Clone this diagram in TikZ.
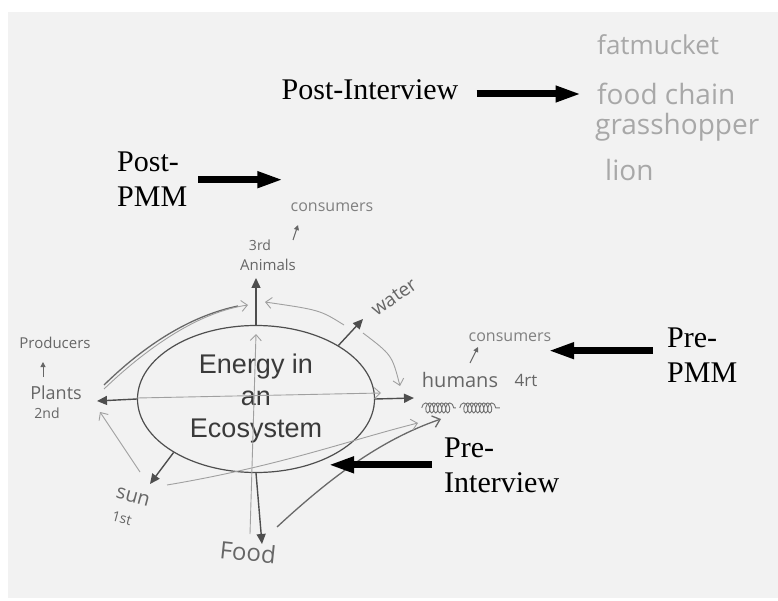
\documentclass[tikz,border=0pt]{standalone}
\usepackage{fontspec}
\setmainfont{Liberation Serif}
\newfontfamily\handfont{Open Sans}
\newfontfamily\arialfont{Liberation Sans}
\usepackage{tikz}
\usetikzlibrary{shapes.geometric, positioning, arrows.meta, calc, decorations.pathmorphing}
\definecolor{paper}{HTML}{F2F2F2}
\definecolor{pencil}{HTML}{4E4E4E}
\definecolor{faint}{HTML}{A0A0A0}
\definecolor{ink}{HTML}{666666}
\definecolor{lightink}{HTML}{A8A8A8}
\definecolor{ecotext}{HTML}{3A3A3A}
\tikzset{
  typed/.style={font=\fontsize{30}{35}\selectfont, align=left, inner sep=0pt, text=black},
  bigarrow/.style={line width=7pt, black, -{Triangle[length=26pt,width=15pt]}},
  hand/.style={font=\handfont\fontsize{#1}{#1}\selectfont, text=ink, inner sep=0pt},
  hand/.default=16,
  pencilarrow/.style={draw=pencil, line width=1.4pt, -{Triangle[length=10pt,width=9pt]}},
  faintarrow/.style={draw=faint, line width=0.9pt, -{Straight Barb[length=6pt,width=11pt]}},
  smallarrow/.style={draw=ink, line width=1pt, -{Triangle[length=5pt,width=5pt]}}
}

\begin{document}
\begin{tikzpicture}[x=1pt, y=-1pt]

    % Hoja de papel
    \useasboundingbox (0,0) rectangle (778,601);
    \fill[white] (0,0) rectangle (778,601);
    \fill[paper] (8,12) rectangle (778,598);

    % 1. Elipse central
    \node[ellipse, draw=pencil, line width=1.2pt, minimum width=237pt, minimum height=147pt,
          inner sep=0pt, align=center, text=ecotext,
          font=\arialfont\fontsize{27}{32}\selectfont] (eco) at (256,399)
          {Energy in\\an\\Ecosystem};

    % 2. Etiquetas a mano
    \node[hand=15] (animals) at (268,265) {Animals};
    \node[hand=14] (third) at (260,245) {3rd};
    \node[hand=16, text=faint!80!black] (consumersA) at (332,207) {consumers};
    \node[hand=15] (producers) at (55,343) {Producers};
    \node[hand=18] (plants) at (56,393) {Plants};
    \node[hand=14] (second) at (47,413) {2nd};
    \node[hand=20, rotate=-15] (sun) at (133,497) {sun};
    \node[hand=14, rotate=-15] (first) at (122,518) {1st};
    \node[hand=24, rotate=-6] (food) at (248,552) {Food};
    \node[hand=19, rotate=35] (water) at (394,297) {water};
    \node[hand=20] (humans) at (460,380) {humans};
    \node[hand=17] (fourth) at (526,380) {4rt};
    \node[hand=16, text=faint!80!black] (consumersB) at (510,337) {consumers};

    % Lista de la entrevista final
    \node[hand=26, text=lightink, anchor=west] (fatmucket) at (597,45) {fatmucket};
    \node[hand=28, text=lightink, anchor=west] (foodchain) at (597,94) {food chain};
    \node[hand=28, text=lightink, anchor=west] (grasshopper) at (595,127) {grasshopper};
    \node[hand=28, text=lightink, anchor=west] (lion) at (605,170) {lion};

    % Garabato tachado bajo humans
    \draw[pencil!80, line width=0.9pt, decorate,
          decoration={coil, aspect=0.6, segment length=4pt, amplitude=5pt}]
          ([yshift=-20pt]humans.south west) -- ++(34,0);
    \draw[pencil!80, line width=0.9pt, decorate,
          decoration={coil, aspect=0.6, segment length=4pt, amplitude=5pt}]
          ([xshift=38pt,yshift=-20pt]humans.south west) -- ++(40,0);

    % 3. Flechas oscuras (lapiz)
    \coordinate (animalsTip) at (256,278);
    \coordinate (plantsTip) at (97,401);
    \coordinate (humansTip) at (414,398);
    \coordinate (sunTip) at (150,484);
    \coordinate (waterTip) at (363,319);
    \coordinate (foodTip) at (262,544);
    \draw[pencilarrow] (eco.north) -- (animalsTip);
    \draw[pencilarrow] (eco.west) -- (plantsTip);
    \draw[pencilarrow] (eco.east) -- (humansTip);
    \draw[pencilarrow] (eco.213) -- (sunTip);
    \draw[pencilarrow] (eco.33) -- (waterTip);
    \draw[pencilarrow] (eco.south) -- (foodTip);

    % trazos curvos mas marcados
    \draw[draw=pencil!85, line width=1.3pt, -{Straight Barb[length=7pt,width=12pt]}]
        (277,527) .. controls (330,478) and (380,440) .. (441,419);
    \draw[draw=pencil!85, line width=1.3pt]
        (104,385) .. controls (150,340) and (195,315) .. (238,306);

    % 4. Flechas claras
    \draw[faintarrow] (250,534) -- (256,334);
    \draw[faintarrow] (137,398) -- (381,393);
    \draw[faintarrow] (104,389) .. controls (150,345) and (200,312) .. (248,305);
    \draw[faintarrow] (344,325) .. controls (320,310) .. (265,302);
    \draw[faintarrow] (363,333) .. controls (392,355) .. (400,386);
    \draw[faintarrow] (140,472) -- (100,412);
    \draw[faintarrow] (167,485) .. controls (280,466) and (350,440) .. (418,423);

    % flechitas de las etiquetas
    \draw[smallarrow] (293,240) -- (298,225);
    \draw[smallarrow] (43,377) -- (43,362);
    \draw[smallarrow] (470,363) -- (478,347);

    % 5. Rotulos impresos y flechas negras
    \node[typed] (postint) at (370,90) {Post-Interview};
    \node[typed, anchor=base west] (postpmm) at (117,207) {Post-\\PMM};
    \node[typed, anchor=base west] (prepmm) at (667,382) {Pre-\\PMM};
    \node[typed, anchor=base west] (preint) at (444,492) {Pre-\\Interview};

    \draw[bigarrow] ([xshift=18pt,yshift=-4pt]postint.east) -- +(105,0);
    \draw[bigarrow] ([xshift=11pt]postpmm.east) -- +(85,0);
    \draw[bigarrow] ([xshift=-14pt,yshift=4pt]prepmm.west) -- +(-105,0);
    \draw[bigarrow] ([xshift=-12pt]preint.west) -- +(-104,0);

\end{tikzpicture}
\end{document}
